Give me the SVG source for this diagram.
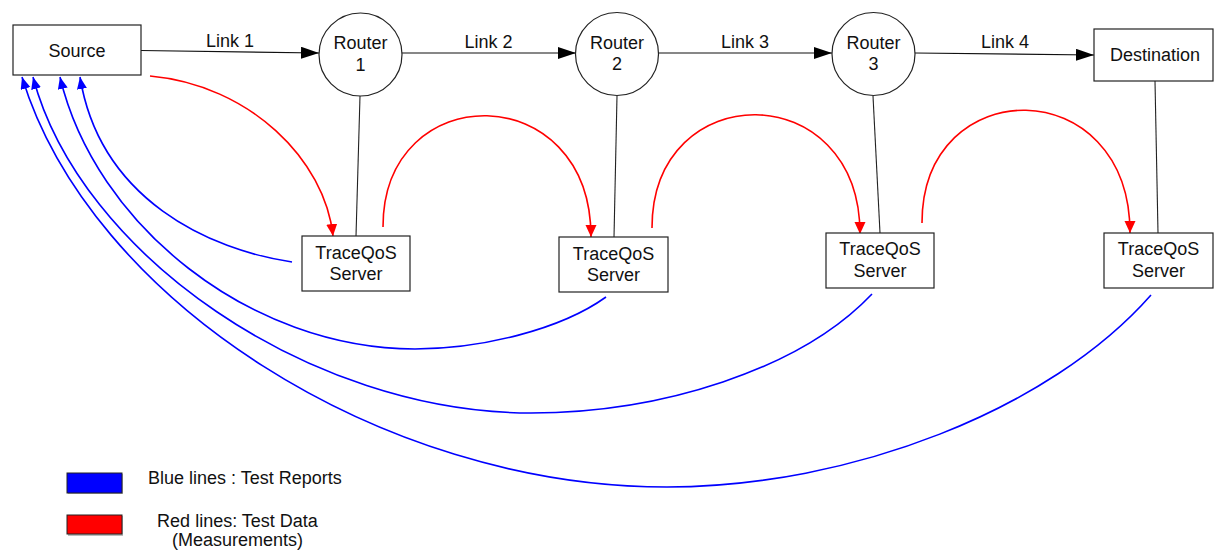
<svg xmlns="http://www.w3.org/2000/svg" width="1215" height="550" viewBox="0 0 1215 550">
  <style>
    .box { fill: #ffffff; stroke: #222222; stroke-width: 1.2; }
    .router { fill: #ffffff; stroke: #222222; stroke-width: 1.2; }
    .lbl { font-family: "Liberation Sans", Arial, sans-serif; font-size: 18px; fill: #111111; text-anchor: middle; }
    .legend { font-family: "Liberation Sans", Arial, sans-serif; font-size: 18px; fill: #111111; }
    .link { fill: none; stroke: #111111; stroke-width: 1.1; }
    .tie { fill: none; stroke: #222222; stroke-width: 1.1; }
    .data { fill: none; stroke: #ff0000; stroke-width: 1.6; }
    .report { fill: none; stroke: #0000ff; stroke-width: 1.6; }
  </style>
  <defs>
    <marker id="arrowBlack" markerUnits="userSpaceOnUse" markerWidth="18" markerHeight="12" refX="18" refY="6" orient="auto">
      <path d="M0,0 L18,6 L0,12 Z" fill="#000000"/>
    </marker>
    <marker id="arrowRed" markerUnits="userSpaceOnUse" markerWidth="12" markerHeight="12" refX="12" refY="5.5" orient="auto">
      <path d="M0,0 L12,5.5 L0,11 Z" fill="#ff0000"/>
    </marker>
    <marker id="arrowBlue" markerUnits="userSpaceOnUse" markerWidth="12" markerHeight="12" refX="12" refY="5" orient="auto">
      <path d="M0,0 L12,5 L0,10 Z" fill="#0000ff"/>
    </marker>
  </defs>

  <!-- connectors -->
  <g id="connectors">
    <!-- forward links -->
    <path class="link" d="M141,50.5 L319,53" marker-end="url(#arrowBlack)"/>
    <path class="link" d="M402,53 L576,53" marker-end="url(#arrowBlack)"/>
    <path class="link" d="M658,53 L832,53" marker-end="url(#arrowBlack)"/>
    <path class="link" d="M915,53 L1094,55" marker-end="url(#arrowBlack)"/>

    <!-- router / destination to measurement server -->
    <path class="tie" d="M360,96 L356,236"/>
    <path class="tie" d="M617,96 L614,237"/>
    <path class="tie" d="M873,96 L880,233"/>
    <path class="tie" d="M1155,81 L1158,233"/>

    <!-- test data (red) -->
    <path class="data" d="M150,76 C250,85 325,160 333,236" marker-end="url(#arrowRed)"/>
    <path class="data" d="M383,227 C383,77 591,77 591,237" marker-end="url(#arrowRed)"/>
    <path class="data" d="M652,228 C652,76 860,76 860,234" marker-end="url(#arrowRed)"/>
    <path class="data" d="M922,223 C922,71 1130,71 1130,233" marker-end="url(#arrowRed)"/>

    <!-- test reports (blue) -->
    <path class="report" d="M292,262 C210,250 100,200 80,77" marker-end="url(#arrowBlue)"/>
    <path class="report" d="M606,297 C560,330 480,349 415,349 C250,349 95,225 60,77" marker-end="url(#arrowBlue)"/>
    <path class="report" d="M872,294 C800,370 660,413 531,413 C310,413 80,255 33,77" marker-end="url(#arrowBlue)"/>
    <path class="report" d="M1151,295 C1050,410 850,487 667,487 C380,487 90,300 22,77" marker-end="url(#arrowBlue)"/>
  </g>

  <g id="source">
    <rect class="box" x="13" y="25" width="128" height="50" stroke="#555555"/>
    <text class="lbl" x="77" y="56.5">Source</text>
  </g>

  <g id="router1">
    <circle class="router" cx="360.5" cy="54.5" r="41.5"/>
    <text class="lbl" x="360.5" y="49">Router</text>
    <text class="lbl" x="360.5" y="70.5">1</text>
  </g>

  <g id="router2">
    <circle class="router" cx="617" cy="54" r="41.5"/>
    <text class="lbl" x="617" y="48.5">Router</text>
    <text class="lbl" x="617" y="70">2</text>
  </g>

  <g id="router3">
    <circle class="router" cx="873.5" cy="54" r="41.5"/>
    <text class="lbl" x="873.5" y="48.5">Router</text>
    <text class="lbl" x="873.5" y="70">3</text>
  </g>

  <g id="destination">
    <rect class="box" x="1094" y="29" width="119" height="52"/>
    <text class="lbl" x="1155" y="61">Destination</text>
  </g>

  <g id="link-labels">
    <text class="lbl" x="230" y="47">Link 1</text>
    <text class="lbl" x="488.5" y="48">Link 2</text>
    <text class="lbl" x="745" y="48">Link 3</text>
    <text class="lbl" x="1005" y="48">Link 4</text>
  </g>

  <g id="server1">
    <rect class="box" x="302" y="236" width="108" height="55"/>
    <text class="lbl" x="356" y="258.5">TraceQoS</text>
    <text class="lbl" x="356" y="280">Server</text>
  </g>

  <g id="server2">
    <rect class="box" x="559" y="237" width="109" height="55"/>
    <text class="lbl" x="613.5" y="259.5">TraceQoS</text>
    <text class="lbl" x="613.5" y="281">Server</text>
  </g>

  <g id="server3">
    <rect class="box" x="826" y="233" width="108" height="55"/>
    <text class="lbl" x="880" y="255">TraceQoS</text>
    <text class="lbl" x="880" y="277">Server</text>
  </g>

  <g id="server4">
    <rect class="box" x="1104" y="233" width="109" height="55"/>
    <text class="lbl" x="1158.5" y="255">TraceQoS</text>
    <text class="lbl" x="1158.5" y="277">Server</text>
  </g>

  <g id="legend">
    <rect x="68" y="474" width="55" height="20" fill="#bbbbbb"/>
    <rect x="67" y="473" width="55" height="20" fill="#0000ff" stroke="#222222" stroke-width="1"/>
    <text class="legend" x="148" y="484">Blue lines : Test Reports</text>
    <rect x="68" y="516" width="55" height="20" fill="#bbbbbb"/>
    <rect x="67" y="515" width="55" height="19" fill="#ff0000" stroke="#222222" stroke-width="1"/>
    <text class="legend" x="237.5" y="527" text-anchor="middle">Red lines: Test Data</text>
    <text class="legend" x="237.5" y="546" text-anchor="middle">(Measurements)</text>
  </g>
</svg>
